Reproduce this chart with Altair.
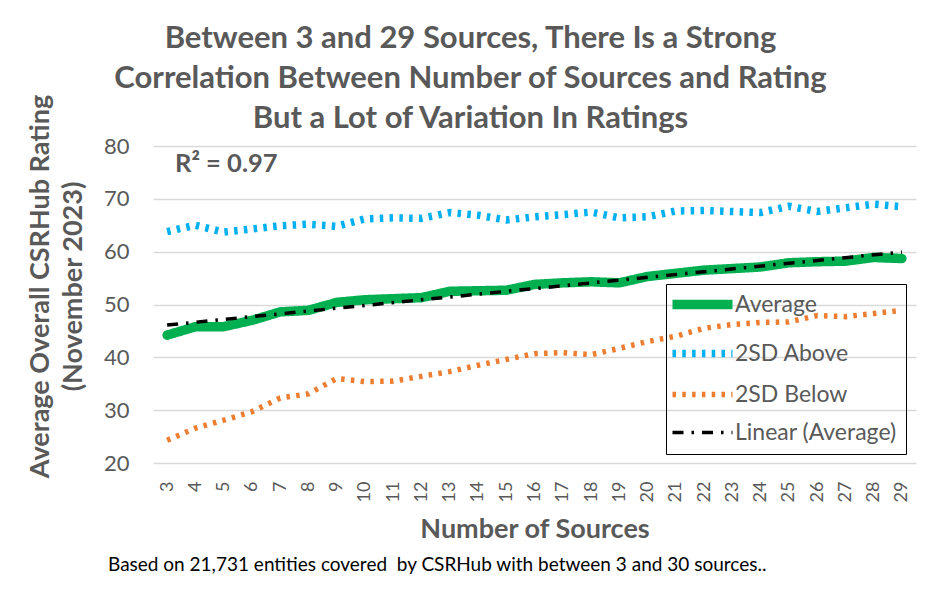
import altair as alt
import pandas as pd

# ---- data ----
sources = list(range(3, 30))
average = [44.2, 45.8, 45.8, 47.0, 48.6, 48.9, 50.4, 50.9, 51.1, 51.3, 52.5, 52.6, 52.7, 53.8,
           54.1, 54.3, 54.1, 55.3, 55.9, 56.5, 56.8, 57.1, 57.9, 58.1, 58.2, 58.9, 58.7]
sd_above = [63.8, 65.0, 63.7, 64.3, 64.9, 65.2, 64.8, 66.2, 66.4, 66.3, 67.4, 66.9, 66.0, 66.6,
            67.0, 67.5, 66.4, 66.6, 67.7, 67.8, 67.6, 67.4, 68.6, 67.6, 68.3, 69.0, 68.5]
sd_below = [24.3, 26.6, 28.1, 29.7, 32.3, 33.1, 36.0, 35.4, 35.5, 36.4, 37.3, 38.5, 39.6, 40.7,
            40.9, 40.5, 41.7, 43.0, 44.0, 45.5, 46.2, 46.6, 46.7, 47.9, 47.7, 48.3, 48.9]
series_names = ["Average", "2SD Above", "2SD Below", "Linear (Average)"]
y_ticks = [20, 30, 40, 50, 60, 70, 80]
title_lines = ["Between 3 and 29 Sources, There Is a Strong",
               "Correlation Between Number of Sources and Rating",
               "But a Lot of Variation In Ratings"]
y_title = ["Average Overall CSRHub Rating", "(November 2023)"]
x_title = "Number of Sources"
footnote = ["Based on 21,731 entities covered\u00a0 by CSRHub with between 3 and 30 sources.."]

rows = []
for name, vals in [("2SD Above", sd_above), ("2SD Below", sd_below), ("Average", average)]:
    for s, v in zip(sources, vals):
        rows.append({"x": s, "value": v, "series": name})
df = pd.DataFrame(rows)

GRAY = "#595959"
FONT = "Lato"

color_scale = alt.Scale(domain=series_names, range=["#00B050", "#00B0F0", "#ED7D31", "#000000"])
dash_scale = alt.Scale(domain=series_names, range=[[1, 0], [3.5, 6.3], [3.5, 6.3], [11, 8, 2.5, 8]])
width_scale = alt.Scale(domain=series_names, range=[9.5, 3.5, 3.5, 2.8])

legend = alt.Legend(
    title=None, orient="none", legendX=513, legendY=138,
    symbolType="M-5,0H5", symbolSize=144, symbolOffset=16,
    labelFont=FONT, labelFontSize=23, labelLimit=400,
    labelColor=GRAY, labelOffset=21, rowPadding=14, padding=9,
    strokeColor="black",
)

x_enc = alt.X("x:Q", scale=alt.Scale(domain=[2.5, 29.5], nice=False, zero=False),
              axis=alt.Axis(values=sources, tickCount=40, format="d", labelAngle=270, grid=False,
                            ticks=False, domain=False, labelOverlap=False, labelFlush=False,
                            labelFont=FONT, labelFontSize=18, labelColor=GRAY, labelPadding=18,
                            title=x_title, titleFont=FONT, titleFontSize=27, titleColor=GRAY,
                            titleFontWeight="bold", titlePadding=15))
y_enc = alt.Y("value:Q", scale=alt.Scale(domain=[20, 80], nice=False, zero=False),
              axis=alt.Axis(values=y_ticks, grid=True, gridColor="#D9D9D9", gridWidth=1.3,
                            ticks=False, domain=False, labelFont=FONT, labelFontSize=22,
                            labelColor=GRAY, labelPadding=24,
                            title=y_title, titleFont=FONT, titleFontSize=27, titleColor=GRAY,
                            titleFontWeight="bold", titleLineHeight=33,
                            titleX=-99, titleY=140))


def series_layer(data_filter, cap):
    return alt.Chart(df).transform_filter(data_filter).mark_line(
        strokeCap=cap, strokeJoin="round").encode(
        x=x_enc, y=y_enc,
        color=alt.Color("series:N", scale=color_scale, legend=legend),
        strokeDash=alt.StrokeDash("series:N", scale=dash_scale, legend=legend),
        strokeWidth=alt.StrokeWidth("series:N", scale=width_scale, legend=legend),
    )


dotted = series_layer("datum.series != 'Average'", "butt")
avg_line = series_layer("datum.series == 'Average'", "round")

trend = alt.Chart(df).transform_filter("datum.series == 'Average'").transform_regression(
    "x", "value").transform_calculate(series="'Linear (Average)'").mark_line(strokeCap="butt").encode(
    x="x:Q", y="value:Q",
    color=alt.Color("series:N", scale=color_scale, legend=legend),
    strokeDash=alt.StrokeDash("series:N", scale=dash_scale, legend=legend),
    strokeWidth=alt.StrokeWidth("series:N", scale=width_scale, legend=legend),
)

r2 = alt.Chart(df).transform_filter("datum.series == 'Average'").transform_regression(
    "x", "value", params=True).transform_calculate(
    label="'R² = ' + format(datum.rSquared, '.2f')").mark_text(
    align="left", baseline="middle", font=FONT, fontSize=25.5, fontWeight="bold", color=GRAY).encode(
    x=alt.value(22), y=alt.value(18), text="label:N")

note = alt.Chart(pd.DataFrame({"note": footnote})).mark_text(
    align="left", baseline="middle", font=FONT, fontSize=19, color="black").encode(
    x=alt.value(-45), y=alt.value(419), text="note:N")

chart = alt.layer(dotted, avg_line, trend, r2, note).properties(
    width=763, height=317,
    autosize=alt.AutoSizeParams(type="none"),
    padding={"left": 145, "top": 138, "right": 16, "bottom": 123},
    title=alt.Title(title_lines, font=FONT, fontSize=31, fontWeight="bold", color=GRAY,
                    lineHeight=40, anchor="middle", frame="group", dx=-64, offset=-41),
).configure_view(stroke=None)

chart.save("out.html", embed_options={"renderer": "svg", "actions": False})
